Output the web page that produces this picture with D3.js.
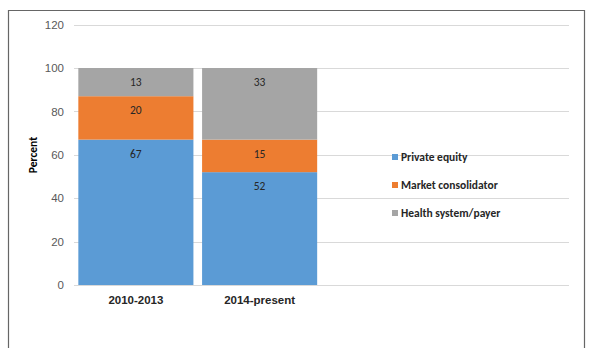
<!DOCTYPE html>
<html>
<head>
<meta charset="utf-8">
<script src="https://cdn.jsdelivr.net/npm/d3@7"></script>
<style>
  body { margin: 0; background: #fff; }
  svg { display: block; font-family: Calibri, Carlito, "Liberation Sans", Arial, sans-serif; }
</style>
</head>
<body>
<svg width="592" height="348"></svg>
<script>
// chart values
var categories = ["2010-2013", "2014-present", "", " "];
var seriesNames = ["Private equity", "Market consolidator", "Health system/payer"];
var privateEquity = [67, 52];
var marketConsolidator = [20, 15];
var healthSystem = [13, 33];
var yTicks = [0, 20, 40, 60, 80, 100, 120];
var colors = ["#5B9BD5", "#ED7D31", "#A5A5A5"];

var svg = d3.select("svg");

// outer frame (top, left, right only)
svg.append("path")
  .attr("d", "M8.5,348 V10.5 H584.5 V348")
  .attr("fill", "none")
  .attr("stroke", "#666")
  .attr("stroke-width", 1.2);

var x = d3.scaleBand().domain(categories).range([74, 569]).paddingInner(0.07).paddingOuter(0.035);
var y = d3.scaleLinear().domain([0, 120]).range([285, 24.6]);

// gridlines
svg.append("g").selectAll("line")
  .data(yTicks)
  .join("line")
  .attr("x1", 74).attr("x2", 569)
  .attr("y1", function(d) { return Math.round(y(d)) + 0.5; })
  .attr("y2", function(d) { return Math.round(y(d)) + 0.5; })
  .attr("stroke", "#D9D9D9")
  .attr("stroke-width", 1);

// y axis labels
var yAxis = svg.append("g")
  .attr("transform", "translate(74,0)")
  .call(d3.axisLeft(y).tickValues(yTicks).tickSize(0).tickPadding(10));
yAxis.select(".domain").remove();
yAxis.selectAll("text").attr("fill", "#595959").style("font-size", "11.5px");

// x axis labels
var xAxis = svg.append("g")
  .attr("transform", "translate(0,285)")
  .call(d3.axisBottom(x).tickSize(0).tickPadding(11));
xAxis.select(".domain").remove();
xAxis.selectAll("text").attr("fill", "#262626").style("font-size", "11.5px").style("font-weight", "bold");

// stacked data
var rows = [0, 1].map(function(i) {
  return { cat: categories[i], v0: privateEquity[i], v1: marketConsolidator[i], v2: healthSystem[i] };
});
var stack = d3.stack().keys(["v0", "v1", "v2"])(rows);

var layers = svg.append("g").selectAll("g")
  .data(stack)
  .join("g")
  .attr("fill", function(d, i) { return colors[i]; });

layers.selectAll("rect")
  .data(function(d) { return d; })
  .join("rect")
  .attr("x", function(d) { return x(d.data.cat); })
  .attr("width", x.bandwidth())
  .attr("y", function(d) { return y(d[1]); })
  .attr("height", function(d) { return y(d[0]) - y(d[1]); });

// data labels at inside end
layers.selectAll("text")
  .data(function(d) { return d; })
  .join("text")
  .attr("x", function(d) { return x(d.data.cat) + x.bandwidth() / 2; })
  .attr("y", function(d) { return y(d[1]) + 14; })
  .attr("dy", "0.35em")
  .attr("text-anchor", "middle")
  .attr("fill", "#262626")
  .style("font-size", "11.5px")
  .text(function(d) { return d[1] - d[0]; });

// y axis title
svg.append("text")
  .attr("transform", "translate(37,155) rotate(-90)")
  .attr("text-anchor", "middle")
  .attr("fill", "#000")
  .style("font-size", "11.5px")
  .style("font-weight", "bold")
  .text("Percent");

// legend
var legend = svg.append("g").selectAll("g")
  .data(seriesNames)
  .join("g")
  .attr("transform", function(d, i) { return "translate(392," + (157 + i * 28) + ")"; });
legend.append("rect")
  .attr("x", 0).attr("y", -3).attr("width", 6).attr("height", 6)
  .attr("fill", function(d, i) { return colors[i]; });
legend.append("text")
  .attr("x", 9).attr("dy", "0.35em")
  .attr("fill", "#262626")
  .style("font-size", "11.5px")
  .style("font-weight", "bold")
  .text(function(d) { return d; });
</script>
</body>
</html>
